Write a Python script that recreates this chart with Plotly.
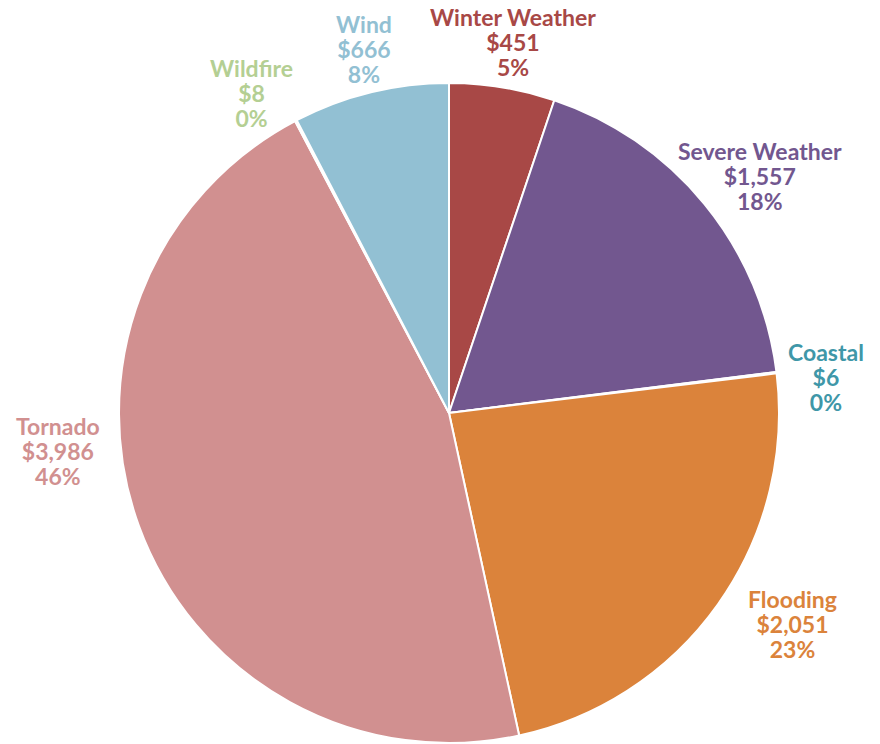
import plotly.graph_objects as go

# ---- data ----
categories = ["Winter Weather", "Severe Weather", "Coastal", "Flooding", "Tornado", "Wildfire", "Wind"]
values = [451, 1557, 6, 2051, 3986, 8, 666]
pct_labels = ["5%", "18%", "0%", "23%", "46%", "0%", "8%"]

# ---- styles ----
slice_colors = ["#A84846", "#72578F", "#3F97A8", "#DB833B", "#D19090", "#B4CF93", "#92C0D3"]
text_colors = ["#A84846", "#72578F", "#3F97A8", "#DB833B", "#D19090", "#B4CF93", "#92C0D3"]
# label centre in pixels (x, y of middle line)
label_pos = [(513, 42), (760, 176), (826, 377), (792, 624), (58, 451), (251, 93), (364, 49)]
line_gap = 25
W, H = 880, 744
FONT = "Lato"
GLYPH = 23

fig = go.Figure(go.Pie(
    labels=categories,
    values=values,
    sort=False,
    direction="clockwise",
    rotation=0,
    marker=dict(colors=slice_colors, line=dict(color="white", width=2)),
    textinfo="none",
    hoverinfo="label+value+percent",
    showlegend=False,
    domain=dict(x=[119 / W, 779 / W], y=[1 / H, 661 / H]),
))

annotations = []
for cat, v, pct, col, (px, py) in zip(categories, values, pct_labels, text_colors, label_pos):
    lines = [cat, f"${v:,}", pct]
    txt = "<br>".join(f"<span style='font-size:{GLYPH}px'><b>{t}</b></span>" for t in lines)
    annotations.append(dict(
        x=px / W, y=1 - py / H, xref="paper", yref="paper",
        text=txt, showarrow=False, align="center",
        xanchor="center", yanchor="middle",
        font=dict(family=FONT, size=line_gap / 1.3, color=col),
    ))

fig.update_layout(
    width=W, height=H,
    margin=dict(l=0, r=0, t=0, b=0),
    paper_bgcolor="white",
    plot_bgcolor="white",
    annotations=annotations,
)

fig.write_html("out.html", config={"displayModeBar": False},
               post_script="document.body.style.margin='0px';")
